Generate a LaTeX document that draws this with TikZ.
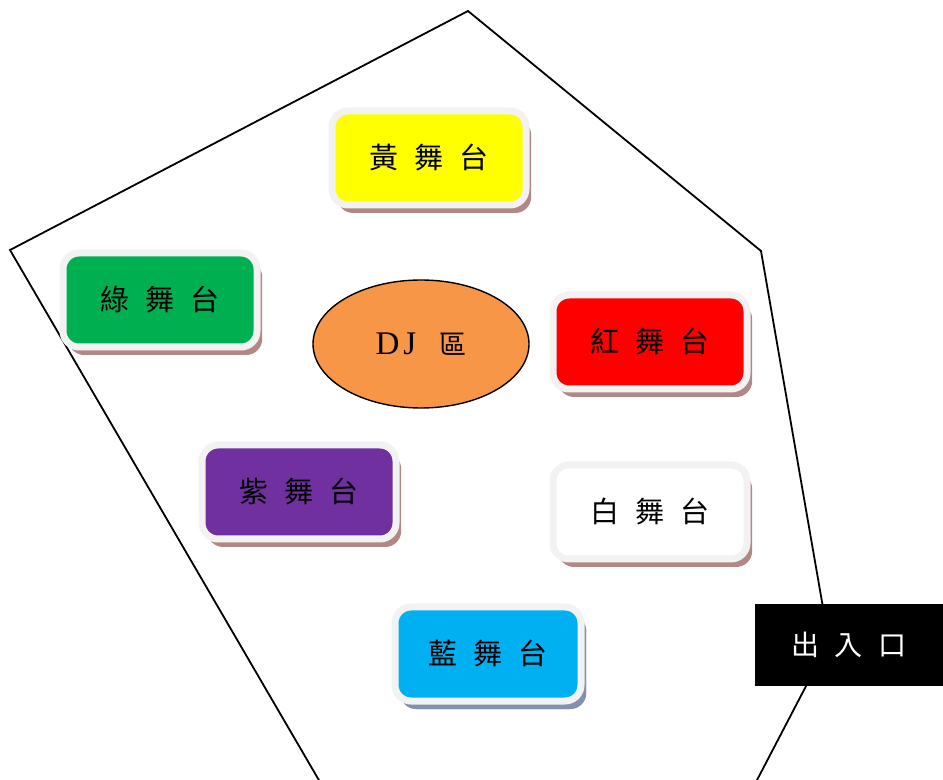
\documentclass[tikz,border=0pt]{standalone}
\usepackage{fontspec}
\setmainfont{Liberation Serif}
\newfontfamily\cjk[WordSpace=2.4]{Noto Sans CJK TC}
\usetikzlibrary{shapes.geometric,shadows}
\definecolor{stageRim}{RGB}{242,242,242}
\definecolor{shadowRed}{RGB}{180,135,135}
\definecolor{shadowBlue}{RGB}{130,145,175}
\definecolor{djOrange}{RGB}{247,150,70}
\definecolor{stageYellow}{RGB}{255,255,0}
\definecolor{stageGreen}{RGB}{0,176,80}
\definecolor{stageRed}{RGB}{255,0,0}
\definecolor{stagePurple}{RGB}{112,48,160}
\definecolor{stageWhite}{RGB}{255,255,255}
\definecolor{stageBlue}{RGB}{0,176,240}
\begin{document}
\begin{tikzpicture}
[x=0.5pt,y=-0.5pt,
  lineDecorate/.style={-,line width=0.9pt},%
  stageDecorate/.style={shape=rectangle,rounded corners=8pt,draw=stageRim,
    line width=3.5pt,minimum width=97pt,minimum height=47pt,
    font=\cjk\fontsize{14.5}{17}\selectfont,
    general shadow={fill=shadowRed,shadow xshift=2.6pt,shadow yshift=-4pt}},
  djDecorate/.style={shape=ellipse,draw,line width=0.7pt,fill=djOrange,
    minimum width=108pt,minimum height=64pt,inner sep=0pt},
  exitDecorate/.style={shape=rectangle,fill=black,text=white,
    minimum width=94pt,minimum height=41pt,
    font=\cjk\fontsize{14}{16}\selectfont}]
\useasboundingbox (0,0) rectangle (943,780);
%% floor outline
\draw[lineDecorate] (320,782) -- (10,250) -- (468,11) -- (761,251)
  -- (829,642) -- (756,782);
%% stages
\foreach \nodename/\x/\y/\col/\txt in {
  yellow/429/158/stageYellow/黃 舞 台, green/160/300/stageGreen/綠 舞 台,
  red/650/342/stageRed/紅 舞 台, purple/299/492/stagePurple/紫 舞 台,
  white/650/512/stageWhite/白 舞 台}
{
  \node (\nodename) at (\x,\y) [stageDecorate,fill=\col] {\txt};
}
\node (blue) at (488,654) [stageDecorate,fill=stageBlue,minimum width=93pt,
  general shadow={fill=shadowBlue,shadow xshift=2.6pt,shadow yshift=-4pt}]
  {藍 舞 台};
%% dj area and exit
\node (dj) at (421,344) [djDecorate]
  {\fontsize{16.5}{18}\selectfont D\kern2pt J\hspace{0.7em}{\cjk\fontsize{13.5}{15}\selectfont 區}};
\node (exit) at (849,645) [exitDecorate] {出 入 口};
\end{tikzpicture}
\end{document}
